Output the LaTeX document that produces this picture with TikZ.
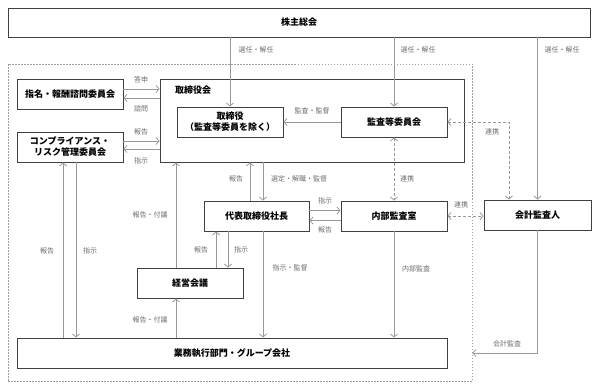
\documentclass[tikz,border=0pt]{standalone}
\usepackage{fontspec}
\setmainfont{Noto Sans CJK JP}
\usetikzlibrary{arrows.meta, positioning, calc}
\tikzset{
  orgbox/.style={
    draw=black!75, line width=0.9pt, align=center,
    font=\bfseries\fontsize{9}{11}\selectfont, fill=white,
    minimum height=30pt, minimum width=106pt, inner sep=2pt
  },
  groupframe/.style={
    draw=gray!75, line width=0.8pt, dash pattern=on 1.5pt off 1.5pt,
    minimum width=464pt, minimum height=317pt
  },
  flowarrow/.style={
    -{Straight Barb[length=3pt,width=7pt]}, draw=gray!80, line width=0.8pt
  },
  linkarrow/.style={
    {Straight Barb[length=3pt,width=7pt]}-{Straight Barb[length=3pt,width=7pt]},
    draw=gray!80, line width=0.8pt, dash pattern=on 3pt off 2pt
  },
  flowlabel/.style={
    font=\fontsize{7}{8}\selectfont, text=gray!85!black, inner sep=1pt
  },
}

\begin{document}
\begin{tikzpicture}[x=1pt, y=-1pt]
  \useasboundingbox (0,0) rectangle (600,388);

  % Group frame (dotted)
  \node[groupframe] (group) at (240,222.5) {};

  % Shareholders meeting
  \node[orgbox, minimum width=582pt, minimum height=29pt] (share) at (299,22.5) {株主総会};

  % Board of directors
  \node[orgbox, minimum width=304pt, minimum height=83pt] (board) at (312,120.5) {};
  \node[font=\bfseries\fontsize{9}{11}\selectfont, anchor=north west]
    (boardtitle) at ([shift={(12pt,-4pt)}]board.north west) {取締役会};
  \node[orgbox] (directors) at (230,122) {取締役\\（監査等委員を除く）};
  \node[orgbox] (auditcom) at (394,122) {監査等委員会};

  % Committees
  \node[orgbox] (nomination) at (70,94) {指名・報酬諮問委員会};
  \node[orgbox] (compliance) at (70,147) {コンプライアンス・\\リスク管理委員会};

  % Execution side
  \node[orgbox, minimum width=105pt] (president) at (256.5,216) {代表取締役社長};
  \node[orgbox] (internal) at (394,216) {内部監査室};
  \node[orgbox, minimum width=107pt] (accountant) at (537.5,215) {会計監査人};
  \node[orgbox] (mgmt) at (190,283) {経営会議};
  \node[orgbox, minimum width=430pt] (business) at (232,353) {業務執行部門・グループ会社};

  % Arrows from shareholders
  \draw[flowarrow] (share.south -| directors) -- (directors.north);
  \draw[flowarrow] (share.south -| auditcom) -- (auditcom.north);
  \draw[flowarrow] (share.south -| accountant) -- (accountant.north);
  \node[flowlabel] (l1) at (256,50) {選任・解任};
  \node[flowlabel] (l2) at (418,50) {選任・解任};
  \node[flowlabel] (l3) at (562,50) {選任・解任};

  % Committees <-> board
  \draw[flowarrow] ([yshift=5pt]nomination.east) -- ([yshift=5pt]nomination.east -| board.west);
  \draw[flowarrow] ([yshift=-4pt]nomination.east -| board.west) -- ([yshift=-4pt]nomination.east);
  \node[flowlabel] (l4) at (141,80) {答申};
  \node[flowlabel] (l5) at (141,109) {諮問};
  \draw[flowarrow] ([yshift=6pt]compliance.east) -- ([yshift=6pt]compliance.east -| board.west);
  \draw[flowarrow] ([yshift=-2pt]compliance.east -| board.west) -- ([yshift=-2pt]compliance.east);
  \node[flowlabel] (l6) at (141,132) {報告};
  \node[flowlabel] (l7) at (141,161) {指示};

  % Audit committee
  \draw[flowarrow] (auditcom.west) -- (directors.east);
  \node[flowlabel] (l8) at (312,111) {監査・監督};
  \draw[linkarrow] (auditcom.south) -- (internal.north);
  \node[flowlabel] (l9) at (407,179) {連携};
  \draw[linkarrow] (auditcom.east) -| ([xshift=-28.5pt]accountant.north);
  \node[flowlabel] (l10) at (492,132) {連携};

  % Board <-> president
  \draw[flowarrow] ([xshift=-6.5pt]president.north) -- ([xshift=-6.5pt]president.north |- board.south);
  \draw[flowarrow] ([xshift=6.5pt]president.north |- board.south) -- ([xshift=6.5pt]president.north);
  \node[flowlabel] (l11) at (236,179) {報告};
  \node[flowlabel] (l12) at (299,179) {選定・解職・監督};

  % President <-> internal audit
  \draw[flowarrow] ([yshift=5.5pt]president.east) -- ([yshift=5.5pt]internal.west);
  \draw[flowarrow] ([yshift=-4.5pt]internal.west) -- ([yshift=-4.5pt]president.east);
  \node[flowlabel] (l13) at (325,201) {指示};
  \node[flowlabel] (l14) at (325,230) {報告};
  \draw[linkarrow] (internal.east) -- (internal.east -| accountant.west);
  \node[flowlabel] (l15) at (461,205) {連携};

  % Audits
  \draw[flowarrow] (internal.south) -- (internal.south |- business.north);
  \node[flowlabel] (l16) at (416,269) {内部監査};
  \draw[flowarrow] (accountant.south) |- (business -| group.east);
  \node[flowlabel] (l17) at (507,344) {会計監査};

  % President <-> execution / management meeting
  \draw[flowarrow] ([xshift=6.5pt]president.south) -- ([xshift=6.5pt]president.south |- business.north);
  \node[flowlabel] (l18) at (290,268) {指示・監督};
  \draw[flowarrow] ([xshift=26pt]mgmt.north) -- ([xshift=26pt]mgmt.north |- president.south);
  \draw[flowarrow] ([xshift=38pt]mgmt.north |- president.south) -- ([xshift=38pt]mgmt.north);
  \node[flowlabel] (l19) at (201,250) {報告};
  \node[flowlabel] (l20) at (241,250) {指示};

  % Management meeting
  \draw[flowarrow] ([xshift=-14pt]mgmt.north) -- ([xshift=-14pt]mgmt.north |- board.south);
  \node[flowlabel] (l21) at (150,215) {報告・付議};
  \draw[flowarrow] ([xshift=-14pt]mgmt.south |- business.north) -- ([xshift=-14pt]mgmt.south);
  \node[flowlabel] (l22) at (150,320) {報告・付議};

  % Execution <-> compliance
  \draw[flowarrow] ([xshift=-7pt]compliance.south |- business.north) -- ([xshift=-7pt]compliance.south);
  \draw[flowarrow] ([xshift=6pt]compliance.south) -- ([xshift=6pt]compliance.south |- business.north);
  \node[flowlabel] (l23) at (47,251) {報告};
  \node[flowlabel] (l24) at (90,251) {指示};
\end{tikzpicture}
\end{document}
